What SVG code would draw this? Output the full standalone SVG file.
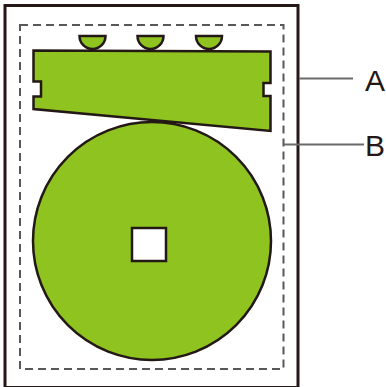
<svg xmlns="http://www.w3.org/2000/svg" width="386" height="387" viewBox="0 0 386 387">
<style>
.sheet{fill:#fff;stroke:#231815;stroke-width:3}
.margin{fill:none;stroke:#595757;stroke-width:2;stroke-dasharray:8 5}
.green{fill:#8fc31f;stroke:#231815;stroke-width:2.5;stroke-linejoin:miter}
.hole{fill:#fff;stroke:#231815;stroke-width:2.5}
.lead{stroke:#6b6b6b;stroke-width:2;fill:none}
.lbl{font-family:"Liberation Sans",Arial,sans-serif;font-size:30px;fill:#231815}
</style>
<rect id="sheet" class="sheet" x="5" y="5.5" width="293" height="382"/>
<rect id="margin" class="margin" x="20" y="25" width="263.5" height="344"/>
<g id="tabs">
<path class="green" d="M79.5 36 A13 13 0 0 0 105.5 36 Z"/>
<path class="green" d="M137.5 36 A13 13 0 0 0 163.5 36 Z"/>
<path class="green" d="M196 36 A13 13 0 0 0 222 36 Z"/>
</g>
<g id="label-shape">
<path class="green" d="M33.5 50.5 L270.5 51.5 L270.5 83 L263.5 83 L263.5 96 L270.5 96 L270.5 131 L33.5 109 L33.5 96.5 L41 96.5 L41 81.5 L33.5 81.5 Z"/>
</g>
<g id="disc">
<circle class="green" cx="152" cy="241" r="119"/>
<rect class="hole" x="132" y="228" width="34" height="33"/>
</g>
<g id="connectors">
<line class="lead" x1="299" y1="78.5" x2="353" y2="78.5"/>
<line class="lead" x1="284" y1="144.5" x2="364" y2="144.5"/>
</g>
<g id="label-A"><text class="lbl" x="365" y="91">A</text></g>
<g id="label-B"><text class="lbl" x="365" y="156">B</text></g>
</svg>
